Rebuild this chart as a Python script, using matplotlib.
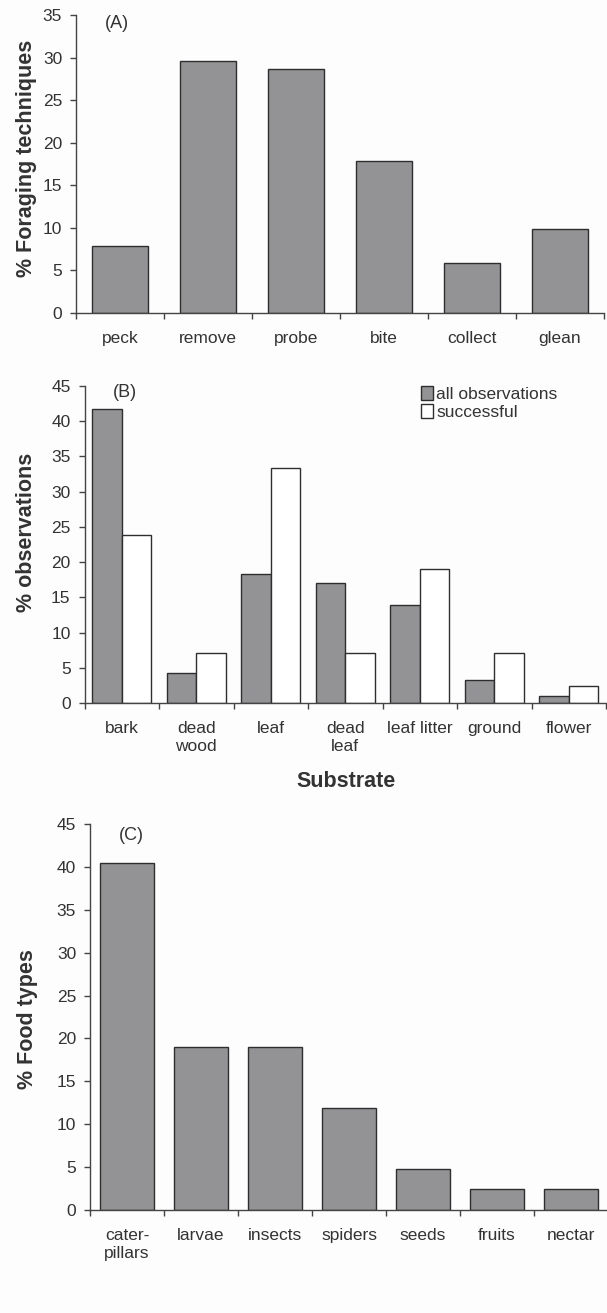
import numpy as np
import matplotlib
matplotlib.use("Agg")
import matplotlib.pyplot as plt
from matplotlib.patches import Patch

plt.rcParams['font.family'] = ['Liberation Sans', 'DejaVu Sans']

# Panel A - foraging techniques
techniques = ["peck", "remove", "probe", "bite", "collect", "glean"]
technique_pct = [7.9, 29.6, 28.7, 17.8, 5.9, 9.9]

# Panel B - substrate
substrates = ["bark", "dead\nwood", "leaf", "dead\nleaf", "leaf litter", "ground", "flower"]
all_obs = [41.8, 4.3, 18.3, 17.1, 13.9, 3.2, 1.0]
successful = [23.8, 7.1, 33.3, 7.1, 19.0, 7.1, 2.4]

# Panel C - food types
foods = ["cater-\npillars", "larvae", "insects", "spiders", "seeds", "fruits", "nectar"]
food_pct = [40.5, 19.0, 19.0, 11.9, 4.8, 2.4, 2.4]

BAR = "#939396"
EDGE = "#2e2e2e"
TXT = "#333333"
W, H = 607, 1313

fig = plt.figure(figsize=(W / 100, H / 100), dpi=100, facecolor="#fdfdfd")


def px_axes(left, top, right, bottom):
    return fig.add_axes([left / W, 1 - bottom / H, (right - left) / W, (bottom - top) / H])


def style(ax, n, ymax):
    ax.set_facecolor("none")
    for s in ["top", "right"]:
        ax.spines[s].set_visible(False)
    for s in ["left", "bottom"]:
        ax.spines[s].set_color("#444444")
        ax.spines[s].set_linewidth(1.0)
    ax.set_xlim(-0.5, n - 0.5)
    ax.set_ylim(0, ymax)
    ax.set_yticks(np.arange(0, ymax + 1, 5))
    ax.tick_params(axis="y", direction="out", length=4, width=1, color="#444444",
                   labelsize=12.5, labelcolor=TXT, pad=6)
    # ticks at category boundaries, labels at centres
    ax.set_xticks(np.arange(-0.5, n, 1.0))
    ax.set_xticklabels([])
    ax.tick_params(axis="x", which="major", direction="out", length=4, width=1, color="#444444")
    ax.set_xticks(np.arange(n), minor=True)
    ax.tick_params(axis="x", which="minor", length=0, labelsize=12.5, labelcolor=TXT, pad=13)


# (A)
axA = px_axes(76, 15, 604, 313)
xa = np.arange(len(techniques))
axA.bar(xa, technique_pct, width=0.64, color=BAR, edgecolor=EDGE, linewidth=1)
style(axA, len(techniques), 35)
axA.set_xticklabels(techniques, minor=True)
axA.text(0.055, 0.97, "(A)", transform=axA.transAxes, fontsize=13, color=TXT, va="center")
fig.text(27 / W, 1 - 158 / H, "% Foraging techniques", rotation=90, ha="center", va="center",
         fontsize=15.5, fontweight="bold", color=TXT)

# (B)
axB = px_axes(84.5, 386, 606, 703)
xb = np.arange(len(substrates))
bw = 0.395
axB.bar(xb - bw / 2, all_obs, width=bw, color=BAR, edgecolor=EDGE, linewidth=1)
axB.bar(xb + bw / 2, successful, width=bw, color="white", edgecolor=EDGE, linewidth=1)
style(axB, len(substrates), 45)
axB.set_xticklabels(substrates, minor=True, linespacing=1.25)
axB.text(0.055, 0.978, "(B)", transform=axB.transAxes, fontsize=13, color=TXT, va="center")
handles = [Patch(facecolor=BAR, edgecolor=EDGE, label="all observations"),
           Patch(facecolor="white", edgecolor=EDGE, label="successful")]
axB.legend(handles=handles, loc="upper left", bbox_to_anchor=(0.645, 1.0), frameon=False,
           fontsize=12.5, handlelength=0.7, handleheight=0.9, handletextpad=0.2,
           borderpad=0, borderaxespad=0, labelspacing=0.1, labelcolor=TXT)
fig.text(27 / W, 1 - 532 / H, "% observations", rotation=90, ha="center", va="center",
         fontsize=15.5, fontweight="bold", color=TXT)
fig.text(346 / W, 1 - 781 / H, "Substrate", ha="center", va="center",
         fontsize=15.5, fontweight="bold", color=TXT)

# (C)
axC = px_axes(90, 824, 608, 1210)
xc = np.arange(len(foods))
axC.bar(xc, food_pct, width=0.72, color=BAR, edgecolor=EDGE, linewidth=1)
style(axC, len(foods), 45)
axC.set_xticklabels(foods, minor=True, linespacing=1.25)
axC.text(0.055, 0.97, "(C)", transform=axC.transAxes, fontsize=13, color=TXT, va="center")
fig.text(27 / W, 1 - 1019 / H, "% Food types", rotation=90, ha="center", va="center",
         fontsize=15.5, fontweight="bold", color=TXT)

fig.savefig("out.png", dpi=100, facecolor=fig.get_facecolor())
